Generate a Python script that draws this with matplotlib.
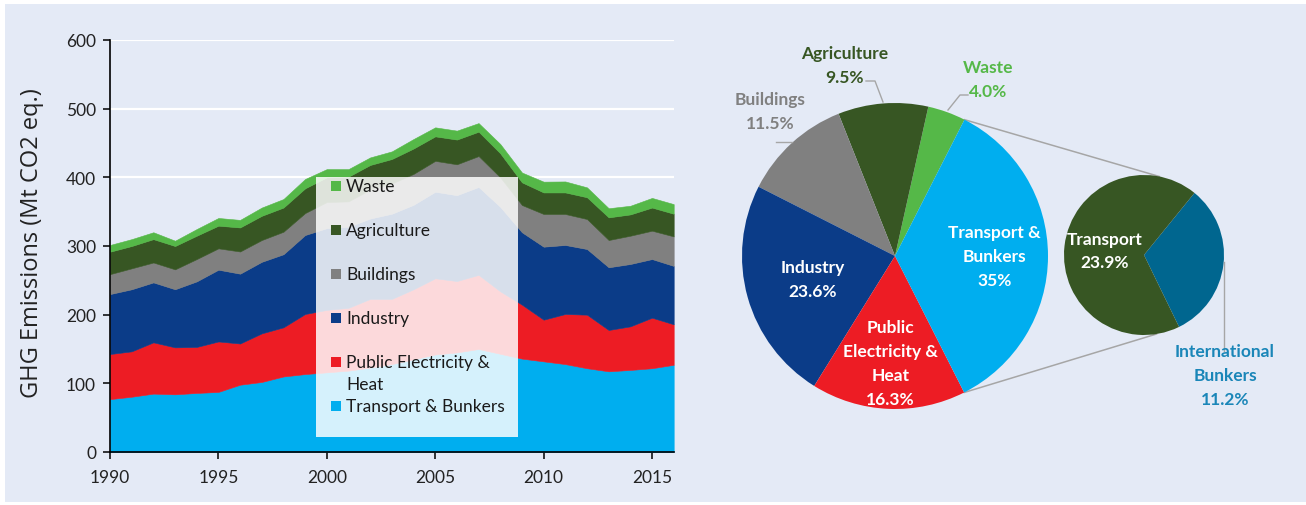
import numpy as np
import matplotlib
matplotlib.use('Agg')
import matplotlib.pyplot as plt
from matplotlib.patches import Rectangle

plt.rcParams['font.family'] = ['Lato', 'DejaVu Sans']

# ---- data: stacked GHG emissions (Mt CO2 eq.) ----
years = list(range(1990, 2017))
transport = [77, 80.5, 85, 84, 86, 87.5, 98, 102, 110, 113.5, 116, 118.5, 123, 128, 135,
             142, 145, 150, 143, 136, 132, 128, 122, 117.5, 119.5, 122, 127]
public_elec = [65.7, 66.1, 74.7, 68.4, 67, 73.5, 60, 70.8, 71.6, 87.5, 91, 91.5, 100, 95, 102,
               111, 104, 108, 91, 78.6, 60.7, 73, 78, 60.2, 63.5, 73.6, 59]
industry = [87.3, 90.4, 87.3, 84.6, 95.5, 104.5, 101.7, 104.2, 106.4, 115, 119, 118, 117, 124, 123,
            126, 125, 128, 123, 105.4, 106.3, 100.5, 95.6, 91.3, 90.8, 85.4, 85]
buildings = [29, 30.5, 29, 29, 32.5, 31.1, 32.3, 31.7, 32.8, 32, 38, 37, 42, 44, 45,
             45, 45, 45, 43, 39.7, 47.6, 45.1, 43.7, 39.7, 41.2, 41.3, 43]
agriculture = [32.7, 32.5, 34, 34, 34, 33, 35, 35.3, 35.2, 36, 36, 36, 36, 35.7, 37,
               35.7, 36, 35.5, 35, 33, 31.4, 31.4, 31.7, 33, 31, 33.7, 33]
waste = [9.8, 10, 10, 7.7, 9.7, 11.2, 11, 12, 12.4, 13.6, 12, 11, 11, 11.1, 13.8,
         13.1, 13, 12.5, 13.5, 14.3, 15.7, 16, 14.4, 13.3, 12.6, 14, 14]

series_labels = ['Transport & Bunkers', 'Public Electricity &\nHeat', 'Industry',
                 'Buildings', 'Agriculture', 'Waste']

# ---- data: shares in the last year ----
pie_labels = ['Waste', 'Agriculture', 'Buildings', 'Industry',
              'Public\nElectricity &\nHeat', 'Transport &\nBunkers']
pie_shares = [4.0, 9.5, 11.5, 23.6, 16.3, 35.0]
split_labels = ['International\nBunkers', 'Transport']
split_shares = [11.2, 23.9]

bg = '#E4EAF6'
c_transport = '#00AEEF'
c_elec = '#ED1C24'
c_industry = '#0B3C88'
c_buildings = '#808080'
c_agri = '#375623'
c_waste = '#55B848'
c_bunkers = '#00668F'
area_colors = [c_transport, c_elec, c_industry, c_buildings, c_agri, c_waste]

W, H = 1306, 506
fig = plt.figure(figsize=(W / 100, H / 100), dpi=100, facecolor='white')
fig.patches.append(Rectangle((5 / W, 3 / H), 1 - 5 / W, 1 - 8 / H,
                             transform=fig.transFigure, facecolor=bg,
                             edgecolor='none', zorder=-5))

# ---------------- stacked area ----------------
ax = fig.add_axes([110 / W, 53 / H, 563.7 / W, 412 / H])
ax.set_facecolor(bg)
ax.stackplot(years, transport, public_elec, industry, buildings, agriculture, waste,
             colors=area_colors, linewidth=0.4, edgecolor='face', zorder=2)
ax.set_xlim(1990, 2016)
ax.set_ylim(0, 600)
ax.set_xticks(range(1990, 2016, 5))
ax.set_yticks(range(0, 601, 100))
ax.set_axisbelow(True)
ax.grid(axis='y', color='white', linewidth=1.6)
for s in ['top', 'right']:
    ax.spines[s].set_visible(False)
for s in ['left', 'bottom']:
    ax.spines[s].set_color('black')
    ax.spines[s].set_linewidth(1.2)
    ax.spines[s].set_zorder(4)
ax.tick_params(axis='both', direction='out', length=5, width=1.1, colors='black',
               labelsize=12.5, labelcolor='#222222')
ax.tick_params(axis='x', pad=7)
ax.tick_params(axis='y', pad=5)

fig.text(32 / W, 1 - 243 / H, 'GHG Emissions (Mt CO2 eq.)', rotation=90,
         ha='center', va='center', fontsize=17, color='#222222',
         family=['Open Sans', 'DejaVu Sans'])

# legend box drawn over the areas
lx0, lx1 = (316 - 110) / 563.7, (518 - 110) / 563.7
ly0, ly1 = (453 - 438) / 412, (453 - 178) / 412
ax.add_patch(Rectangle((lx0, ly0), lx1 - lx0, ly1 - ly0, transform=ax.transAxes,
                       facecolor='white', alpha=0.84, edgecolor='none', zorder=5))
row_top = (453 - 187) / 412
row_step = 44 / 412
line_step = 22 / 412
mx = (335.5 - 110) / 563.7
sq_w, sq_h = 10 / 563.7, 10 / 412
tx = (346 - 110) / 563.7
for i, (lab, col) in enumerate(zip(series_labels[::-1], area_colors[::-1])):
    ry = row_top - i * row_step
    ax.add_patch(Rectangle((mx - sq_w / 2, ry - sq_h / 2), sq_w, sq_h,
                           transform=ax.transAxes, facecolor=col, edgecolor='none', zorder=6))
    for j, line in enumerate(lab.split('\n')):
        ax.text(tx, ry - j * line_step, line, transform=ax.transAxes, ha='left',
                va='center', fontsize=12.5, color='#1a1a1a', zorder=6)

# ---------------- pies ----------------
ax2 = fig.add_axes([690 / W, 0, (W - 690) / W, 1])
ax2.patch.set_alpha(0)
big_c = (895, H - 257)
big_r = 153
small_c = (1144, H - 256)
small_r = 80
wedges, _ = ax2.pie(pie_shares, colors=[c_waste, c_agri, c_buildings, c_industry, c_elec,
                                        c_transport],
                    startangle=63, center=big_c, radius=big_r, frame=True,
                    wedgeprops=dict(linewidth=0))
wedges2, _ = ax2.pie(split_shares, colors=[c_bunkers, c_agri], startangle=-64,
                     center=small_c, radius=small_r, frame=True,
                     wedgeprops=dict(linewidth=0))
ax2.set_aspect('auto')
ax2.set_xlim(690, W)
ax2.set_ylim(0, H)
ax2.axis('off')


def on_circle(c, r, ang, f=1.0):
    a = np.deg2rad(ang)
    return c[0] + f * r * np.cos(a), c[1] + f * r * np.sin(a)


lbl_font = dict(fontsize=12.5, fontweight='bold', ha='center', va='center', linespacing=1.6)

# labels inside the big pie
inside = {3: 0.56, 4: 0.70, 5: 0.65}
for k, f in inside.items():
    w = wedges[k]
    mid = (w.theta1 + w.theta2) / 2
    x, y = on_circle(big_c, big_r, mid, f)
    ax2.text(x, y, '%s\n%s' % (pie_labels[k], ('%g%%' % pie_shares[k]) if k == 5
                               else '%.1f%%' % pie_shares[k]),
             color='white', **lbl_font)

# labels outside the big pie
grey = '#A6A6A6'
outside = {0: ((988, 80), c_waste, [(968, 96), (960, 96), (948, 111)]),
           1: ((845, 66), c_agri, [(866, 82), (875, 82), (883, 103)]),
           2: ((770, 112), '#808080', [(776, 143), (792, 143)])}
for k, ((px, py), col, pts) in outside.items():
    ax2.text(px, H - py, '%s\n%.1f%%' % (pie_labels[k], pie_shares[k]), color=col, **lbl_font)
    ax2.plot([p[0] for p in pts], [H - p[1] for p in pts], color=grey, lw=1, zorder=1)

# small pie labels
w = wedges2[1]
mid = (w.theta1 + w.theta2) / 2
x, y = on_circle(small_c, small_r, mid, 0.49)
ax2.text(x, y, '%s\n%.1f%%' % (split_labels[1], split_shares[1]), color='white', **lbl_font)
ax2.text(1225, H - 376, '%s\n%.1f%%' % (split_labels[0], split_shares[0]),
         color='#1A86B8', **lbl_font)
ax2.plot([1224, 1224], [H - 263, H - 352], color=grey, lw=1)

# connector lines between the pies
t = wedges[5]
p1 = on_circle(big_c, big_r, t.theta2)
p2 = on_circle(big_c, big_r, t.theta1)
q1 = on_circle(small_c, small_r, 79)
q2 = on_circle(small_c, small_r, -81)
ax2.plot([p1[0], q1[0]], [p1[1], q1[1]], color=grey, lw=1.1, zorder=0)
ax2.plot([p2[0], q2[0]], [p2[1], q2[1]], color=grey, lw=1.1, zorder=0)

fig.savefig('out.png', dpi=100, facecolor=fig.get_facecolor())
